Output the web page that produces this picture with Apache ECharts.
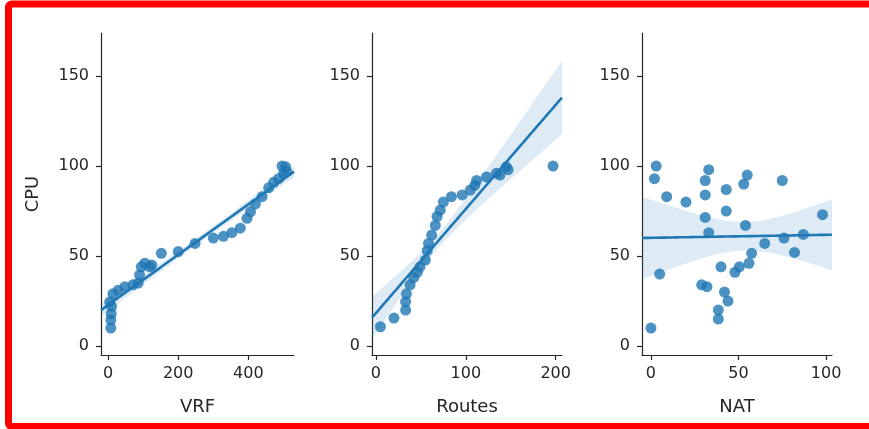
<!DOCTYPE html>
<html>
<head>
<meta charset="utf-8">
<script src="https://cdn.jsdelivr.net/npm/echarts@6/dist/echarts.min.js"></script>
<style>
html,body{margin:0;padding:0;background:#fff;}
#chart{width:869px;height:429px;}
</style>
</head>
<body>
<div id="chart"></div>
<script>
// ---- data ----
const vrf = [8, 8, 9, 10, 5, 14, 29, 48, 71, 86, 90, 95, 105, 119, 125, 152, 200, 248, 300, 329, 353, 377, 396, 406, 420, 439, 458, 472, 486, 500, 506, 496, 509];
const cpuVrf = [10, 14.5, 18, 22, 24.5, 29, 31, 33, 34, 35, 39.5, 44, 46, 44, 45, 51.5, 52.5, 57, 60, 61, 63, 65.5, 71, 74.6, 79, 83, 88, 91, 93, 96, 99.6, 100, 97];

const routes = [5, 20, 33, 33, 34, 38, 42, 46, 49, 55, 57, 58.5, 62, 66, 68, 71.5, 75, 84, 96, 105, 110, 112, 123, 134, 147, 145, 138, 197];
const cpuRoutes = [10.7, 15.5, 20, 24.6, 29, 34, 38, 41, 44, 47.8, 53, 57, 61.7, 67, 72, 75.5, 80, 83, 84, 86.7, 89.4, 92, 94, 96, 98, 99.6, 95, 100];

const nat = [0, 3, 2, 5, 9, 20, 31, 33, 31, 31, 33, 29, 32, 40, 43, 43, 42, 44, 38.5, 38.5, 48, 50.5, 56, 57.5, 54, 53, 55, 65, 75, 76, 82, 87, 98];
const cpuNat = [10, 100, 93, 40, 83, 80, 92, 98, 84, 71.5, 63, 34, 33, 44, 87, 75, 30, 25, 20, 15, 41, 44, 46, 51.5, 67, 90, 95, 57, 92, 60, 52, 62, 73];

const xNames = ['VRF', 'Routes', 'NAT'];
const yName = 'CPU';
const xTicks = [[0, 200, 400], [0, 100, 200], [0, 50, 100]];
const yTicks = [0, 50, 100, 150];

// ---- layout / style ----
const xRanges = [[-20, 530], [-4.4, 207], [-5.1, 103.4]];
const yRange = [-5, 174];
const gridLefts = [101, 372, 642];
const gridWidths = [193, 190, 190];
const TOP = 33, HEIGHT = 322;
const BLUE = '#1f77b4';
const TXT = '#262626';
const FONT = 'DejaVu Sans';

// linear fit with robust (sandwich) confidence band
function fit(xs, ys, xmin, xmax) {
  const n = xs.length;
  const mx = xs.reduce((a, b) => a + b, 0) / n;
  const my = ys.reduce((a, b) => a + b, 0) / n;
  let sxx = 0, sxy = 0;
  for (let i = 0; i < n; i++) { sxx += (xs[i] - mx) ** 2; sxy += (xs[i] - mx) * (ys[i] - my); }
  const b = sxy / sxx, a = my - b * mx;
  const res = xs.map((x, i) => ys[i] - (a + b * x));
  const line = [], band = [];
  const N = 100;
  for (let k = 0; k <= N; k++) {
    const x0 = xmin + (xmax - xmin) * k / N;
    const yh = a + b * x0;
    let v = 0;
    for (let i = 0; i < n; i++) {
      const w = 1 / n + (x0 - mx) * (xs[i] - mx) / sxx;
      v += w * w * res[i] * res[i];
    }
    const h = 1.96 * Math.sqrt(v);
    line.push([x0, yh]);
    band.push([x0, yh - h, yh + h]);
  }
  return { line, band };
}

const panels = [[vrf, cpuVrf], [routes, cpuRoutes], [nat, cpuNat]];

const grids = [], xAxes = [], yAxes = [], series = [];
panels.forEach((p, i) => {
  grids.push({ left: gridLefts[i], top: TOP, width: gridWidths[i], height: HEIGHT });
  const axisCommon = {
    axisLine: { show: true, onZero: false, lineStyle: { color: TXT, width: 1.2 } },
    axisTick: { show: true, inside: false, length: 5, lineStyle: { color: TXT, width: 1.2 } },
    splitLine: { show: false },
  };
  xAxes.push(Object.assign({}, axisCommon, {
    type: 'value', gridIndex: i, min: xRanges[i][0], max: xRanges[i][1],
    axisTick: Object.assign({}, axisCommon.axisTick, { customValues: xTicks[i] }),
    axisLabel: { customValues: xTicks[i], fontSize: 16, color: TXT, fontFamily: FONT, margin: 11 },
    name: xNames[i], nameLocation: 'middle', nameGap: 43,
    nameTextStyle: { fontSize: 18, color: TXT, fontFamily: FONT }
  }));
  yAxes.push(Object.assign({}, axisCommon, {
    type: 'value', gridIndex: i, min: yRange[0], max: yRange[1],
    axisTick: Object.assign({}, axisCommon.axisTick, { customValues: yTicks }),
    axisLabel: { customValues: yTicks, fontSize: 16, color: TXT, fontFamily: FONT, margin: 12 },
    name: i === 0 ? yName : '', nameLocation: 'middle', nameGap: 59,
    nameTextStyle: { fontSize: 18, color: TXT, fontFamily: FONT }
  }));
  const f = fit(p[0], p[1], xRanges[i][0], xRanges[i][1]);
  series.push({
    type: 'scatter', xAxisIndex: i, yAxisIndex: i, z: 1,
    data: p[0].map((x, k) => [x, p[1][k]]),
    symbolSize: 11, itemStyle: { color: BLUE, opacity: 0.8 }
  });
  const band = f.band;
  series.push({
    type: 'custom', xAxisIndex: i, yAxisIndex: i, z: 2, silent: true,
    data: band.map(d => [d[0], d[1]]),
    encode: { x: 0, y: 1 },
    renderItem: function (params, api) {
      if (params.dataIndex !== 0) return null;
      const pts = [];
      band.forEach(d => pts.push(api.coord([d[0], d[2]])));
      for (let k = band.length - 1; k >= 0; k--) pts.push(api.coord([band[k][0], band[k][1]]));
      return { type: 'polygon', shape: { points: pts }, style: { fill: BLUE, opacity: 0.15 } };
    }
  });
  series.push({
    type: 'line', xAxisIndex: i, yAxisIndex: i, z: 3, data: f.line,
    showSymbol: false, lineStyle: { color: BLUE, width: 2.6 }, silent: true
  });
});

const chart = echarts.init(document.getElementById('chart'), null, { renderer: 'canvas' });
chart.setOption({
  animation: false,
  backgroundColor: '#ffffff',
  textStyle: { fontFamily: FONT },
  grid: grids, xAxis: xAxes, yAxis: yAxes, series: series,
  graphic: [{
    type: 'rect', z: 100, silent: true,
    shape: { x: 8.5, y: 4, width: 880, height: 422.5, r: 3 },
    style: { fill: 'none', stroke: '#ff0000', lineWidth: 7 }
  }]
});
</script>
</body>
</html>
